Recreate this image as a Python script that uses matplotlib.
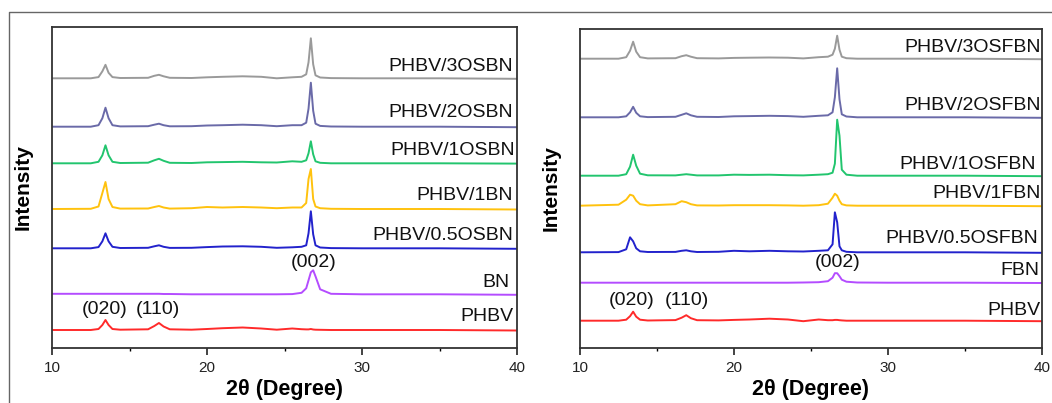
"""XRD patterns of PHBV composites, two stacked panels (BN / FBN series)."""
import matplotlib
matplotlib.use("Agg")
import matplotlib.pyplot as plt
from matplotlib.lines import Line2D
from matplotlib.ticker import MultipleLocator

plt.rcParams["font.family"] = ["Liberation Sans", "DejaVu Sans"]

# ---- shared 2theta sampling (deg) ----
two_theta = [10, 12.5, 13.0, 13.25, 13.45, 13.65, 13.9, 14.4, 16.2, 16.6, 16.9,
             17.2, 17.6, 19, 20, 21, 22.3, 23.5, 24.5, 25.5, 26.1, 26.4, 26.55,
             26.7, 26.85, 27.0, 27.3, 28, 30, 35, 40]

# ---- left panel: OSBN series (intensity above each baseline, a.u.) ----
left_names = ["PHBV", "BN", "PHBV/0.5OSBN", "PHBV/1BN", "PHBV/1OSBN",
              "PHBV/2OSBN", "PHBV/3OSBN"]
left_offsets = [18, 53.7, 99.7, 139, 184.7, 221.3, 269.7]
left_phbv = [0, 0, 1, 5, 10, 5, 1, 0.3, 0.7, 4, 7, 3.5, 0.7, 0.3, 1, 1.8, 2.5,
             1.5, 0.3, 1.5, 0.8, 0.6, 0.6, 1, 0.5, 0.3, 0.2, 0, 0, 0, -0.5]
left_bn = [0.5, 0.5, 0.5, 0.5, 0.5, 0.5, 0.5, 0.5, 0.5, 0.5, 0.5, 0.3, 0.3, 0,
           0, 0, 0, 0, 0, 0.2, 1.5, 6, 14, 22, 24, 18, 5, 0.5, 0, 0, -0.5]
left_05osbn = [0, 0, 1.2, 7, 15, 7, 1.5, 0.3, 0.5, 2, 3, 1.5, 0.4, 0.5, 1.2,
               1.8, 2, 1.5, 0.5, 1, 1.5, 3, 15, 37, 14, 3, 0.8, 0.2, 0, 0, -0.5]
left_1bn = [0, 0.2, 2.5, 16, 27, 10, 2, 0.4, 0.5, 2, 3, 1.5, 0.4, 0.8, 2, 1.5,
            2, 1.5, 0.8, 1.5, 1.5, 6, 30, 40, 10, 2.5, 0.8, 0.2, 0, 0, -0.5]
left_1osbn = [0, 0, 1.5, 8, 18, 8, 1.5, 0.3, 0.6, 3, 4.5, 2.5, 0.5, 0.3, 1,
              1.2, 1.5, 1, 0.8, 2, 1.5, 3, 10, 22, 9, 2, 0.5, 0, 0, 0, -0.3]
left_2osbn = [0, 0, 1.5, 8.5, 19, 8.5, 1.5, 0.3, 0.5, 2, 3, 1.5, 0.4, 0.5, 1.2,
              1.5, 2, 1.5, 0.5, 1.5, 1.5, 4, 18, 44, 16, 3, 0.8, 0.2, 0, 0, -0.5]
left_3osbn = [0, 0, 1.2, 7, 13.5, 5.5, 1.2, 0.3, 0.5, 2.5, 3.5, 2, 0.5, 0.3, 1,
              1.5, 2, 1.5, 0, 1, 1.5, 4, 16, 40, 14, 3, 0.8, 0.2, 0, 0, -0.5]
left_curves = [left_phbv, left_bn, left_05osbn, left_1bn, left_1osbn,
               left_2osbn, left_3osbn]
left_label_y = [31.7, 65.7, 112.3, 153, 197.3, 235.7, 282]

# ---- right panel: OSFBN series ----
right_names = ["PHBV", "FBN", "PHBV/0.5OSFBN", "PHBV/1FBN", "PHBV/1OSFBN",
               "PHBV/2OSFBN", "PHBV/3OSFBN"]
right_offsets = [27.3, 65.3, 95.7, 142.3, 172.3, 230.7, 289.3]
right_phbv = [0, 0, 1, 4.5, 9, 4, 1, 0.2, 0.6, 3, 5.5, 2.5, 0.5, 0.3, 0.8, 1.2,
              2, 1.2, -0.5, 1.2, 0.5, 0.5, 0.8, 0.8, 0.5, 0.3, 0, 0, 0, 0, -0.5]
right_fbn = [0, 0, 0, 0, 0, 0, 0, 0, 0, 0, 0, 0, 0, 0, 0, 0, 0, 0, 0.2, 0.5,
             1.5, 5, 9.5, 9.5, 6.5, 3, 1, 0.2, 0, 0, -0.3]
right_05osfbn = [0, 0.2, 3, 15, 11, 4, 1, 0.3, 0.4, 1.5, 2, 1, 0.3, 0.5, 1.5, 1,
                 1.5, 1, 0.8, 1.5, 2, 8, 40, 30, 6, 2, 0.5, 0, 0, 0, -0.5]
right_1fbn = [0, 1, 6, 11, 10, 5, 1.5, 0.3, 1.5, 4.5, 3.5, 1.5, 0.3, 0.2, 0.5,
              0.5, 0.5, 0.3, 0, 0.5, 2, 8, 12, 10, 5, 1.5, 0.3, 0, 0, 0, -0.5]
right_1osfbn = [0, 0, 1.5, 9, 21, 10, 2, 0.4, 0.3, 1, 1.5, 1, 0.3, 0.3, 1, 0.8,
                1, 0.5, 0.3, 1, 1.5, 3, 12, 56, 40, 6, 1, 0, 0, 0, -0.5]
right_2osfbn = [0, 0, 1, 5, 10.5, 4.5, 1, 0.2, 0.5, 2.5, 4, 2, 0.5, 0.3, 1, 1.2,
                1.5, 1.2, 0.5, 1.5, 2, 5, 20, 49, 18, 3, 0.8, 0, 0, 0, -0.5]
right_3osfbn = [0, 0, 1.5, 8, 17, 7, 1.5, 0.3, 0.5, 2.5, 3.5, 2, 0.5, 0.3, 0.8,
                1, 1.2, 1, 0.3, 1.5, 2, 4, 10, 23, 9, 2, 0.5, 0, 0, 0, -0.5]
right_curves = [right_phbv, right_fbn, right_05osfbn, right_1fbn, right_1osfbn,
                right_2osfbn, right_3osfbn]
right_label_y = [37.3, 77.3, 109.7, 154.7, 184, 242.3, 300.7]

colors = ["#ff2a2a", "#b44cff", "#2222cc", "#ffc20e", "#22c56e", "#6a6aa8",
          "#9a9a9a"]

# Miller index annotations: (text, 2theta, height)
left_hkl = [("(020)", 13.4, 39), ("(110)", 16.86, 39), ("(002)", 26.9, 85.7)]
right_hkl = [("(020)", 13.36, 47.3), ("(110)", 16.93, 47.3), ("(002)", 26.7, 85.7)]

W, H = 1052, 403
fig = plt.figure(figsize=(W / 100, H / 100), dpi=100, facecolor="white")

# outer frame (top + left only)
fig.add_artist(Line2D([8.5 / W, 8.5 / W, 1.0], [0.0, 1 - 12 / H, 1 - 12 / H],
                      transform=fig.transFigure, color="#666666", lw=1.0))


def panel(rect, ymax, names, offsets, curves, label_y, label_x, hkl, ylab_x):
    ax = fig.add_axes(rect)
    for name, off, ys, c in zip(names, offsets, curves, colors):
        ax.plot(two_theta, [off + v for v in ys], color=c, lw=1.4)
    for name, y, lx in zip(names, label_y, label_x):
        ax.text(lx, y, name, ha="right", va="center", fontsize=14, color="#111111")
    for t, x, y in hkl:
        ax.text(x, y, t, ha="center", va="center", fontsize=14, color="#111111")
    ax.set_xlim(10, 40)
    ax.set_ylim(0, ymax)
    ax.set_yticks([])
    ax.xaxis.set_major_locator(MultipleLocator(10))
    ax.xaxis.set_minor_locator(MultipleLocator(5))
    ax.tick_params(axis="x", which="major", direction="out", length=5, width=1.2,
                   labelsize=11, pad=4, colors="#222222")
    ax.tick_params(axis="x", which="minor", direction="out", length=2.5, width=1.0)
    for s in ax.spines.values():
        s.set_linewidth(1.3)
        s.set_color("#333333")
    cx = rect[0] + rect[2] / 2
    fig.text(cx, 1 - 390 / H, "2\u03b8 (Degree)", ha="center", va="center",
             fontsize=15.5, fontweight="bold")
    fig.text(ylab_x / W, rect[1] + rect[3] / 2, "Intensity", ha="center",
             va="center", rotation=90, fontsize=15, fontweight="bold")
    return ax


panel([52 / W, 1 - 348 / H, (517 - 52) / W, (348 - 27) / H], 321,
      left_names, left_offsets, left_curves, left_label_y,
      [39.75, 39.5, 39.75, 39.75, 39.85, 39.75, 39.75], left_hkl, 23.5)
panel([580 / W, 1 - 348 / H, (1042 - 580) / W, (348 - 29) / H], 319,
      right_names, right_offsets, right_curves, right_label_y,
      [39.9, 39.85, 39.75, 39.9, 39.6, 39.9, 39.9], right_hkl, 551.5)

fig.savefig("out.png", dpi=100, facecolor="white")
